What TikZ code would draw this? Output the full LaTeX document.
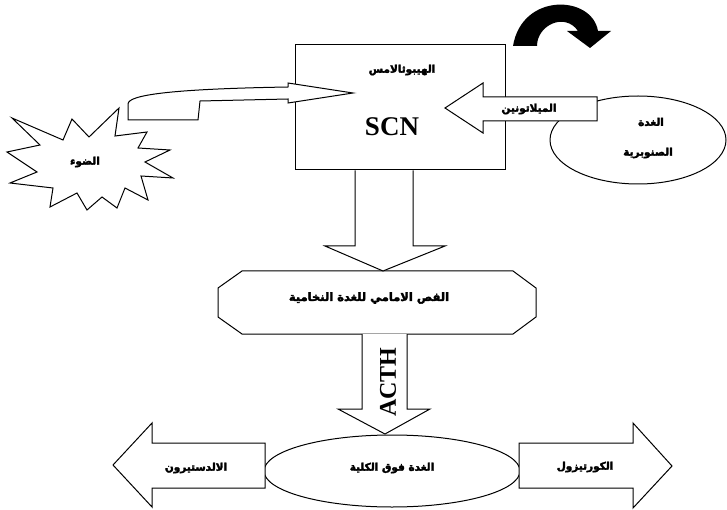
\documentclass[tikz,border=0pt]{standalone}
\usepackage{fontspec}
\setmainfont{Liberation Serif}
\newfontfamily\arabicfont[Script=Arabic, BoldFont={DejaVu Sans Bold}, BoldFeatures={FakeBold=3}]{DejaVu Sans}
\TeXXeTstate=1
\usetikzlibrary{shapes.geometric}
\begin{document}
\begin{tikzpicture}[x=1pt,y=-1pt,
  blk/.style={draw=black, line width=1pt, fill=white, line join=miter},
  ar/.style={font=\arabicfont\bfseries\fontsize{10.5}{12}\selectfont, inner sep=0pt},
  big/.style={font=\bfseries\fontsize{27}{30}\selectfont, inner sep=0pt},
  acthf/.style={font=\bfseries\fontsize{24}{26}\selectfont, inner sep=0pt}]
\useasboundingbox (0,0) rectangle (727,510);
% shapes
\node[blk, minimum width=210pt, minimum height=125pt, inner sep=0pt] (hyp) at (400,107.5) {};
\node[blk, ellipse, minimum width=176pt, minimum height=88pt, inner sep=0pt] (pin) at (638,140) {};
\draw[blk] (12,118) -- (63,140) -- (72,119) -- (89,137) -- (119,108) -- (115,136) -- (147,132)
  -- (138,148) -- (170,150) -- (145,162) -- (173,178) -- (141,176) -- (148,200) -- (125,188)
  -- (117,208) -- (102,197) -- (87,210) -- (77,193) -- (50,207) -- (53,188) -- (10,183)
  -- (37,172) -- (7,152) -- (40,145) -- cycle;
\coordinate (star) at (88,160);
\draw[blk] (242,271) -- (513,271) -- (536,288) -- (536,317) -- (513,334) -- (242,334)
  -- (218,317) -- (218,288) -- cycle;
\coordinate (lobe) at (377,302);
\node[blk, ellipse, minimum width=256pt, minimum height=72pt, inner sep=0pt] (adr) at (392,471) {};
% arrows
\draw[blk] (128,120) -- (128,104) .. controls (128,95) and (170,89) .. (288,87) -- (288,83)
  -- (353,93) -- (288,103) -- (288,99) -- (200,101) -- (198,120) -- cycle;
\draw[blk] (597,97) -- (483,97) -- (483,83) -- (445,108) -- (483,133) -- (483,121) -- (597,121) -- cycle;
\fill[black] (513,46) -- (537,46) .. controls (537,25) and (565,12) .. (578,31) -- (567,31)
  -- (590,48) -- (611,31) -- (598,31) .. controls (592,-5) and (522,-8) .. (513,46) -- cycle;
\draw[blk] (355,170.5) -- (355,246) -- (325,246) -- (383,271) -- (445,246) -- (413,246) -- (413,170.5);
\draw[blk] (362,334) -- (362,409) -- (338,409) -- (385,434) -- (430,409) -- (407,409) -- (407,334);
\draw[blk] (265,443) -- (152,443) -- (152,423) -- (113,465) -- (152,507) -- (152,488) -- (265,488) -- cycle;
\draw[blk] (519,443) -- (633,443) -- (633,423) -- (672,466) -- (633,508) -- (633,488) -- (519,488) -- cycle;
% texts
\node[ar] (t1) at (402,70) {\beginR الهيبوثالامس\endR};
\node[big] (scn) at (392,127) {SCN};
\node[ar] (t2) at (529,109) {\beginR الميلاتونين\endR};
\node[ar] (t3) at (651,122) {\beginR الغدة\endR};
\node[ar] (t4) at (648,153) {\beginR الصنوبرية\endR};
\node[ar] (t5) at (85,162) {\beginR الضوء\endR};
\node[ar, font=\arabicfont\bfseries\fontsize{11.5}{13}\selectfont] (t6) at (369,298) {\beginR الفص الامامي للغدة النخامية\endR};
\node[acthf, rotate=90] (acth) at (388,382) {ACTH};
\node[ar] (t7) at (392,468) {\beginR الغدة فوق الكلية\endR};
\node[ar] (t8) at (196,468) {\beginR الالدستيرون\endR};
\node[ar] (t9) at (585,467) {\beginR الكورتيزول\endR};
\end{tikzpicture}
\end{document}
